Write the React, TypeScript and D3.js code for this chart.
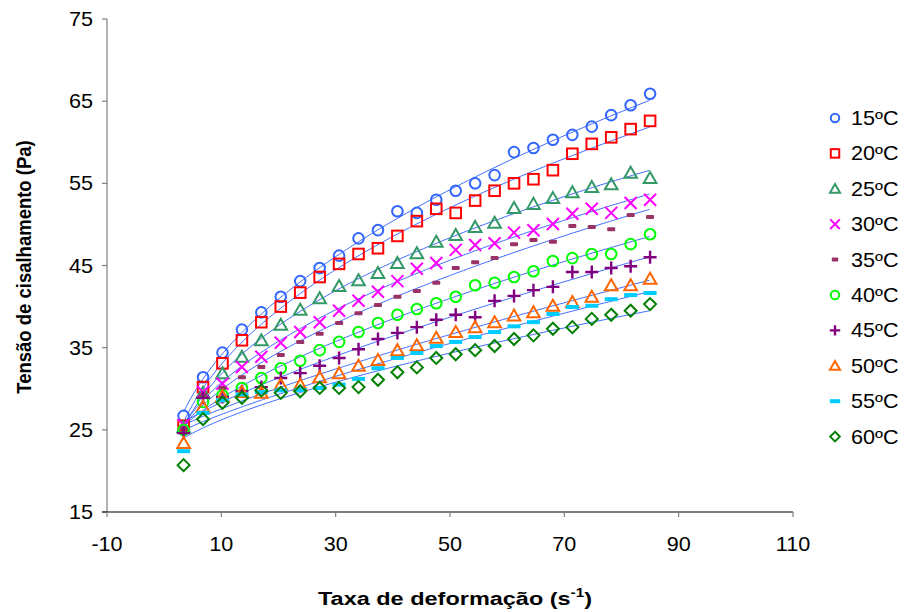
import React from "react";
import * as d3 from "d3";

// ---------- data ----------
const shearRate = [3.4, 6.8, 10.2, 13.6, 17, 20.4, 23.8, 27.2, 30.6, 34, 37.4, 40.8, 44.2, 47.6, 51, 54.4, 57.8, 61.2, 64.6, 68, 71.4, 74.8, 78.2, 81.6, 85];

const t15 = [26.7, 31.4, 34.4, 37.2, 39.3, 41.2, 43.1, 44.7, 46.2, 48.3, 49.3, 51.6, 51.4, 53.0, 54.1, 55.0, 56.0, 58.8, 59.3, 60.3, 60.9, 61.9, 63.3, 64.5, 65.9];
const t20 = [25.5, 30.2, 33.1, 35.9, 38.1, 40.0, 41.7, 43.6, 45.2, 46.4, 47.1, 48.6, 50.4, 51.9, 51.4, 52.9, 54.1, 55.0, 55.5, 56.6, 58.6, 59.8, 60.6, 61.6, 62.6];
const t25 = [25.3, 29.5, 31.9, 33.9, 35.9, 37.8, 39.6, 41.0, 42.5, 43.2, 44.1, 45.3, 46.5, 47.9, 48.7, 49.7, 50.2, 52.0, 52.5, 53.2, 53.9, 54.55, 54.9, 56.3, 55.65];
const t30 = [25.6, 29.6, 30.6, 32.65, 33.9, 35.6, 36.9, 38.1, 39.5, 40.7, 41.8, 43.1, 44.6, 45.3, 46.9, 47.5, 47.7, 49.0, 49.3, 50.05, 51.3, 51.9, 51.4, 52.6, 53.0];
const t35 = [25.2, 29.2, 30.1, 31.4, 32.65, 34.1, 35.7, 36.7, 38.0, 39.2, 40.2, 41.2, 41.9, 42.9, 44.7, 45.4, 45.9, 47.6, 48.1, 47.9, 49.8, 49.7, 49.4, 51.15, 50.9];
const t40 = [25.0, 28.4, 29.2, 30.1, 31.3, 32.5, 33.4, 34.7, 35.7, 36.9, 38.0, 39.0, 39.7, 40.4, 41.2, 42.6, 42.9, 43.6, 44.3, 45.55, 45.9, 46.4, 46.4, 47.6, 48.8];
const t45 = [24.6, 28.9, 29.0, 29.7, 30.2, 31.3, 31.9, 32.8, 33.75, 34.8, 36.05, 36.8, 37.5, 38.4, 39.0, 38.7, 40.7, 41.3, 42.0, 42.4, 44.2, 44.2, 44.7, 44.9, 46.0];
const t50 = [23.4, 27.8, 29.1, 29.6, 29.5, 30.5, 30.5, 31.4, 31.9, 32.8, 33.5, 34.7, 35.3, 36.2, 36.9, 37.5, 38.1, 38.9, 39.3, 40.1, 40.55, 41.2, 42.6, 42.6, 43.4];
const t55 = [22.4, 27.05, 28.6, 29.3, 29.6, 29.8, 29.85, 30.1, 30.5, 31.2, 32.5, 33.75, 34.35, 35.2, 35.7, 36.3, 36.9, 37.6, 38.1, 39.1, 39.95, 40.1, 40.9, 41.4, 41.65];
const t60 = [20.7, 26.3, 28.3, 28.9, 29.8, 29.5, 29.7, 30.1, 30.1, 30.2, 31.1, 32.0, 32.6, 33.75, 34.2, 34.7, 35.2, 36.05, 36.5, 37.3, 37.5, 38.5, 39.0, 39.5, 40.3];

const seriesLabels = ["15ºC", "20ºC", "25ºC", "30ºC", "35ºC", "40ºC", "45ºC", "50ºC", "55ºC", "60ºC"];
const seriesColors = ["#3366FF", "#FF0000", "#339966", "#FF00FF", "#993366", "#00FF00", "#800080", "#FF6600", "#00CCFF", "#008000"];
const seriesShapes = ["circle", "square", "triangle", "x", "dashSmall", "circle", "plus", "triangle", "dash", "diamond"];
const seriesValues = [t15, t20, t25, t30, t35, t40, t45, t50, t55, t60];

const xTicks = [-10, 10, 30, 50, 70, 90, 110];
const yTicks = [15, 25, 35, 45, 55, 65, 75];

const xTitle = "Taxa de deformação (s";
const yTitle = "Tensão de cisalhamento (Pa)";

// ---------- layout ----------
const W = 907, H = 612;
const x = d3.scaleLinear().domain([-10, 110]).range([107, 793]);
const y = d3.scaleLinear().domain([15, 75]).range([512, 19]);
const SX = 1.27; // horizontal stretch of the x title
const SXT = 1.08; // stretch for tick / legend text
const FONT = "'Liberation Sans', Arial, sans-serif";
const lineColor = "#3F6BFF";

// Herschel–Bulkley fit tau = a + b * g^n (grid search on n, least squares on a,b)
function hbFit(xs: number[], ys: number[]) {
  let best = { a: 0, b: 0, n: 1, sse: Infinity };
  for (let n = 0.05; n <= 1.5; n += 0.005) {
    const u = xs.map((v) => Math.pow(v, n));
    const mu = d3.mean(u)!, my = d3.mean(ys)!;
    let sxy = 0, sxx = 0;
    u.forEach((v, i) => { sxy += (v - mu) * (ys[i] - my); sxx += (v - mu) * (v - mu); });
    const b = sxy / sxx, a = my - b * mu;
    let sse = 0;
    u.forEach((v, i) => { const e = ys[i] - (a + b * v); sse += e * e; });
    if (sse < best.sse) best = { a, b, n, sse };
  }
  return best;
}

function Marker({ shape, color, s = 1 }: { shape: string; color: string; s?: number }) {
  const sw = 2;
  switch (shape) {
    case "circle":
      return <circle r={5.3 * s} fill="none" stroke={color} strokeWidth={sw} />;
    case "square":
      return <rect x={-5.3 * s} y={-5.3 * s} width={10.6 * s} height={10.6 * s} fill="none" stroke={color} strokeWidth={sw} />;
    case "triangle":
      return <path d={`M0,${-6 * s} L${6.3 * s},${5 * s} L${-6.3 * s},${5 * s} Z`} fill="none" stroke={color} strokeWidth={sw} />;
    case "x":
      return <path d={`M${-6 * s},${-6 * s} L${6 * s},${6 * s} M${-6 * s},${6 * s} L${6 * s},${-6 * s}`} stroke={color} strokeWidth={sw} />;
    case "plus":
      return <path d={`M${-6.5 * s},0 H${6.5 * s} M0,${-6.5 * s} V${6.5 * s}`} stroke={color} strokeWidth={2.4} />;
    case "dashSmall":
      return <rect x={-4 * s} y={-2} width={8 * s} height={4} rx={1} fill={color} />;
    case "dash":
      return <rect x={-6.5 * s} y={-2} width={13 * s} height={4} fill={color} />;
    case "diamond":
      return <path d={`M0,${-6 * s} L${6 * s},0 L0,${6 * s} L${-6 * s},0 Z`} fill="none" stroke={color} strokeWidth={sw} />;
    default:
      return null;
  }
}

export default function App() {
  const fits = seriesValues.map((vals) => hbFit(shearRate, vals));
  const gx = d3.range(shearRate[0], shearRate[shearRate.length - 1] + 0.001, 0.5);
  const line = d3.line<[number, number]>().x((d) => x(d[0])).y((d) => y(d[1])).curve(d3.curveLinear);

  return (
    <svg width={W} height={H} style={{ position: "absolute", left: 0, top: 0, background: "#fff" }} fontFamily={FONT}>
      <rect width={W} height={H} fill="#fff" />

      {/* axes */}
      <line x1={x(-10)} x2={x(-10)} y1={y(75)} y2={y(15)} stroke="#808080" strokeWidth={1.2} />
      {yTicks.map((t) => (
        <line key={"yt" + t} x1={x(-10) - 5} x2={x(-10)} y1={y(t)} y2={y(t)} stroke="#808080" strokeWidth={1.2} />
      ))}
      <line x1={x(-10) - 5} x2={x(110)} y1={y(15)} y2={y(15)} stroke="#000" strokeWidth={1.2} />
      {xTicks.map((t) => (
        <line key={"xt" + t} x1={x(t)} x2={x(t)} y1={y(15)} y2={y(15) + 5} stroke="#808080" strokeWidth={1.2} />
      ))}

      {/* tick labels */}
      {yTicks.map((t) => (
        <g key={"yl" + t} transform={`translate(93,${y(t) + 7}) scale(${SXT},1)`}>
          <text textAnchor="end" fontSize={20} fill="#000">{t}</text>
        </g>
      ))}
      {xTicks.map((t) => (
        <g key={"xl" + t} transform={`translate(${x(t)},${551}) scale(${SXT},1)`}>
          <text textAnchor="middle" fontSize={20} fill="#000">{t}</text>
        </g>
      ))}

      {/* titles */}
      <g transform={`translate(455,605) scale(${SX},1)`}>
        <text textAnchor="middle" fontSize={18.5} fontWeight="bold" fill="#000">
          {xTitle}
          <tspan fontSize={12} dy={-8}>-1</tspan>
          <tspan dy={8}>)</tspan>
        </text>
      </g>
      <g transform={`translate(31,267) scale(1.1,1) rotate(-90)`}>
        <text textAnchor="middle" fontSize={18.5} fontWeight="bold" fill="#000">{yTitle}</text>
      </g>

      {/* fit lines */}
      {fits.map((f, i) => (
        <path
          key={"fit" + i}
          d={line(gx.map((g) => [g, f.a + f.b * Math.pow(g, f.n)] as [number, number])) || ""}
          fill="none"
          stroke={lineColor}
          strokeWidth={1}
        />
      ))}

      {/* markers */}
      {seriesValues.map((vals, i) => (
        <g key={"s" + i}>
          {vals.map((v, j) => (
            <g key={j} transform={`translate(${x(shearRate[j])},${y(v)})`}>
              <Marker shape={seriesShapes[i]} color={seriesColors[i]} />
            </g>
          ))}
        </g>
      ))}

      {/* legend */}
      {seriesLabels.map((lab, i) => {
        const ly = 118 + i * 35.4;
        return (
          <g key={"lg" + i}>
            <g transform={`translate(835,${ly})`}>
              <Marker shape={seriesShapes[i]} color={seriesColors[i]} s={0.8} />
            </g>
            <g transform={`translate(851,${ly + 7}) scale(${SXT},1)`}>
              <text fontSize={20} fill="#000">{lab}</text>
            </g>
          </g>
        );
      })}
    </svg>
  );
}
